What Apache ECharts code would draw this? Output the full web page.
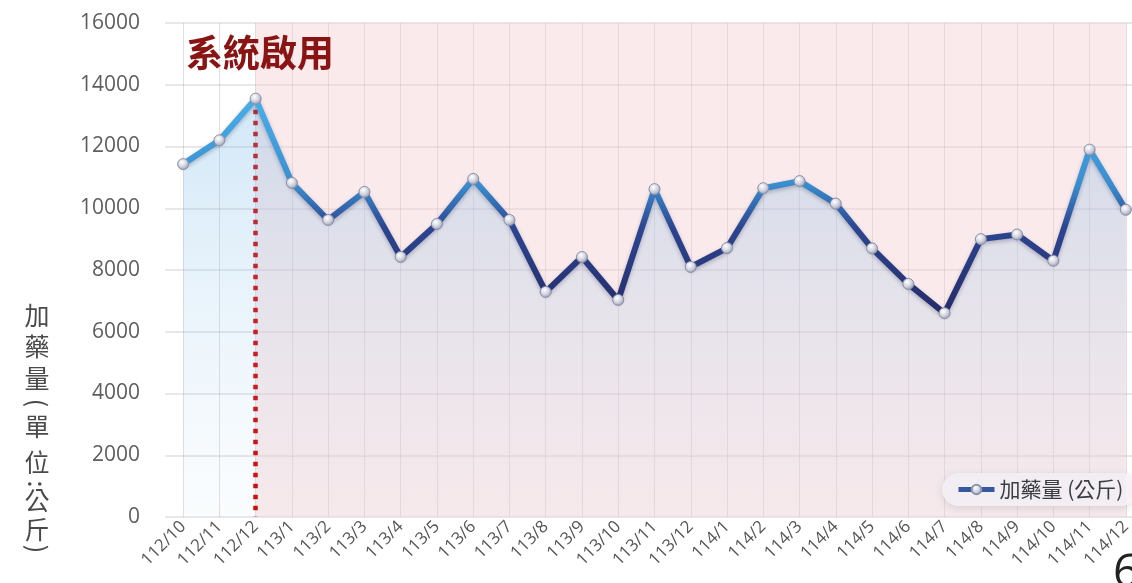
<!DOCTYPE html>
<html>
<head>
<meta charset="utf-8">
<script src="https://cdn.jsdelivr.net/npm/echarts@6/dist/echarts.min.js"></script>
<style>
html,body{margin:0;padding:0;background:#fff;}
#chart{width:1132px;height:583px;}
</style>
</head>
<body>
<div id="chart"></div>
<script>
const categories = ['112/10','112/11','112/12','113/1','113/2','113/3','113/4','113/5','113/6','113/7','113/8','113/9','113/10','113/11','113/12','114/1','114/2','114/3','114/4','114/5','114/6','114/7','114/8','114/9','114/10','114/11','114/12'];
const values = [11430,12200,13550,10820,9620,10530,8420,9490,10950,9620,7290,8420,7030,10620,8100,8710,10650,10880,10150,8700,7550,6600,9000,9150,8300,11900,9950];
const seriesName = '加藥量 (公斤)';
const startCategory = '112/12';
const startValue = 13550;
const startLabel = '系統啟用';
const pageNumber = '6';

const chart = echarts.init(document.getElementById('chart'), null, {renderer:'canvas'});

const titleFont = '25px "Noto Sans CJK TC"';
const titleColor = '#4a4a4a';
function tChar(text, y, rotate) {
  return {
    type:'text', x:37, y:y, rotation: rotate ? -Math.PI/2 : 0,
    style:{text:text, font:titleFont, fill:titleColor, align:'center', verticalAlign:'middle'}
  };
}

const option = {
  backgroundColor:'#ffffff',
  animation:false,
  grid:{left:165, width:979, top:23, bottom:66, containLabel:false, outerBoundsMode:'none'},
  xAxis:{
    type:'category',
    data:categories,
    boundaryGap:true,
    axisLine:{show:false},
    axisTick:{show:false, alignWithLabel:true},
    axisLabel:{rotate:45, fontSize:17, color:'#555', fontFamily:'Open Sans', margin:7, interval:0},
    splitLine:{show:true, alignWithLabel:true, lineStyle:{color:'rgba(150,140,155,0.28)', width:1}}
  },
  yAxis:{
    type:'value', min:0, max:16000, interval:2000,
    axisLine:{show:false}, axisTick:{show:false},
    axisLabel:{fontSize:21, color:'#5e5e5e', fontFamily:'Open Sans', margin:25, formatter:(v)=>String(v)},
    splitLine:{lineStyle:{color:'rgba(160,150,160,0.3)', width:1.5}}
  },
  legend:{
    left:942, top:473,
    padding:[6,14,6,14],
    backgroundColor:'rgba(249,241,245,0.97)',
    borderRadius:18,
    shadowBlur:8, shadowColor:'rgba(0,0,0,0.12)', shadowOffsetY:2,
    itemWidth:36, itemHeight:12, itemGap:4,
    textStyle:{fontSize:21, color:'#333', fontFamily:'Noto Sans CJK TC'},
    lineStyle:{color:'#2e4f98', width:5},
    data:[seriesName]
  },
  graphic:[
    {type:'text', left:186, top:34, style:{text:startLabel, font:'bold 37px "Noto Sans CJK TC"', fill:'#8a1414', shadowBlur:2, shadowColor:'rgba(0,0,0,0.2)', shadowOffsetX:1, shadowOffsetY:1}, z:20},
    {type:'group', z:20, children:[
      tChar('加', 315),
      tChar('藥', 346),
      tChar('量', 378),
      tChar('(', 403, true),
      tChar('單', 426),
      tChar('位', 462),
      tChar(':', 484, true),
      tChar('公', 500),
      tChar('斤', 529),
      tChar(')', 549, true)
    ]},
    {type:'text', left:1113, top:551, style:{text:pageNumber, font:'46px "Open Sans"', fill:'#222'}, z:20}
  ],
  series:[{
    name:seriesName,
    type:'line',
    data:values,
    symbol:'circle',
    symbolSize:11,
    z:5,
    lineStyle:{
      width:6,
      color:new echarts.graphic.LinearGradient(0,0,0,1,[
        {offset:0, color:'#4ab0e8'},
        {offset:0.4, color:'#3a8ed0'},
        {offset:0.6, color:'#2c4590'},
        {offset:1, color:'#252b68'}
      ]),
      shadowBlur:4, shadowColor:'rgba(0,0,40,0.25)', shadowOffsetY:2
    },
    itemStyle:{
      color:new echarts.graphic.RadialGradient(0.4,0.35,0.7,[
        {offset:0, color:'#ffffff'},
        {offset:0.5, color:'#d4d6e0'},
        {offset:1, color:'#8e93aa'}
      ]),
      borderColor:'#8a8fa6', borderWidth:1
    },
    areaStyle:{
      color:new echarts.graphic.LinearGradient(0,0,0,1,[
        {offset:0, color:'rgba(100,175,230,0.42)'},
        {offset:1, color:'rgba(170,210,240,0.08)'}
      ])
    },
    markArea:{
      silent:true,
      itemStyle:{color:'rgba(243,205,208,0.42)'},
      data:[[{xAxis:startCategory, yAxis:16000},{xAxis:categories[categories.length-1], yAxis:0}]]
    },
    markLine:{
      silent:true,
      symbol:['none','none'],
      label:{show:false},
      lineStyle:{color:'#d10000', width:4.5, type:[4.5,6.5]},
      data:[[{coord:[startCategory, startValue]},{coord:[startCategory, 0]}]]
    }
  }]
};
chart.setOption(option);
</script>
</body>
</html>
